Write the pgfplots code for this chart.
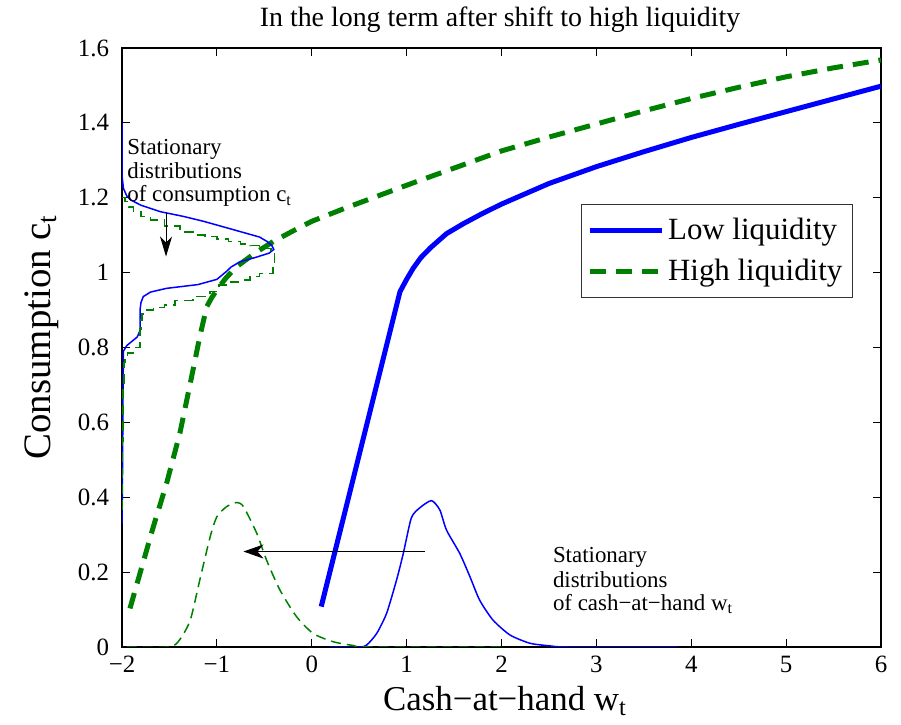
\documentclass[border=0pt]{standalone}
\usepackage{pgfplots}
\pgfplotsset{compat=1.18}
\usepackage{fontspec}
\setmainfont{Liberation Serif}
\usetikzlibrary{arrows.meta}
\definecolor{mblue}{rgb}{0,0,1}
\definecolor{mgreen}{rgb}{0,0.5,0}
\begin{document}
\begin{tikzpicture}
\begin{axis}[
  scale only axis,
  width=379.5bp, height=299.5bp,
  xmin=-2, xmax=6, ymin=0, ymax=1.6,
  /pgf/number format/assume math mode=true,
  xtick={-2,-1,0,1,2,3,4,5,6},
  xticklabels={−2,−1,0,1,2,3,4,5,6},
  ytick={0,0.2,0.4,0.6,0.8,1,1.2,1.4,1.6},
  yticklabels={0,0.2,0.4,0.6,0.8,1,1.2,1.4,1.6},
  tick align=inside,
  major tick length=4bp,
  axis line style={line width=0.75bp},
  every tick/.style={black, line width=0.6bp},
  ticklabel style={font=\rmfamily\fontsize{12.5}{15}\selectfont},
  yticklabel style={xshift=-3bp},
  xticklabel style={yshift=-1bp},
  legend style={at={(0.963,0.7396)}, anchor=north east,
    font=\rmfamily\fontsize{15.5}{19}\selectfont, draw=black!80, line width=0.6bp,
    inner xsep=3bp, inner ysep=5bp, row sep=4bp},
  legend cell align=left,
  legend image code/.code={\draw[#1] (0bp,0bp) -- (36bp,0bp);},
]
% consumption functions
\addplot[mblue, line width=2.5bp] coordinates {
(0.1,0.108) (0.93,0.949) (0.97,0.968) (1.0,0.982) (1.07,1.012) (1.15,1.04) (1.25,1.066)
(1.42,1.104) (1.6,1.131) (1.8,1.158) (2.0,1.183) (2.5,1.238) (3.0,1.283) (3.5,1.323)
(4.0,1.361) (4.5,1.396) (5.0,1.43) (5.5,1.464) (6.0,1.498)};
\addlegendentry{Low liquidity}
\addplot[mgreen, line width=2.5bp, dash pattern=on 8bp off 5bp] coordinates {
(-1.916,0.103) (-1.81,0.197) (-1.67,0.321) (-1.53,0.437) (-1.39,0.571) (-1.266,0.722)
(-1.18,0.829) (-1.107,0.909) (-1.05,0.935) (-1.0,0.954) (-0.9,0.987) (-0.79,1.016) (-0.6,1.052)
(-0.406,1.083) (-0.2,1.111) (0.0,1.137) (0.35,1.172) (0.7,1.205) (1.05,1.238) (1.4,1.27) (2.0,1.325)
(2.5,1.362) (3,1.397) (3.5,1.432) (4,1.465) (4.5,1.495) (5,1.523) (5.5,1.547) (6,1.568)};
\addlegendentry{High liquidity}
% stationary distributions of cash-at-hand
\addplot[mblue, line width=0.75bp, smooth, tension=0.4, forget plot] coordinates {
(0.19,0) (0.5,0) (0.578,0.005) (0.684,0.036) (0.789,0.09) (0.894,0.179) (0.965,0.25)
(1.05,0.345) (1.14,0.372) (1.262,0.391) (1.35,0.366) (1.42,0.3125) (1.56,0.25)
(1.667,0.188) (1.77,0.125) (1.91,0.072) (2.09,0.032) (2.30,0.01) (2.51,0.003) (2.7,0) (3.86,0)};
\addplot[mgreen, line width=0.75bp, dash pattern=on 5bp off 3bp, smooth, tension=0.4, forget plot] coordinates {
(-1.95,0) (-1.5,0) (-1.39,0.02) (-1.28,0.072) (-1.18,0.179) (-1.07,0.295) (-1.0,0.348)
(-0.897,0.375) (-0.79,0.386) (-0.72,0.375) (-0.58,0.304) (-0.476,0.232) (-0.335,0.152)
(-0.16,0.081) (0.016,0.036) (0.227,0.014) (0.437,0.004) (0.6,0) (2.0,0)};
% stationary distributions of consumption
\addplot[mblue, line width=0.75bp, forget plot] coordinates {
(-2,1.40) (-2,1.26) (-1.985,1.225) (-1.95,1.205) (-1.9,1.193) (-1.8,1.18) (-1.6,1.163)
(-1.35,1.15) (-1.14,1.137) (-0.9,1.12) (-0.69,1.105) (-0.55,1.095) (-0.47,1.083)
(-0.42,1.072) (-0.40,1.062) (-0.45,1.052) (-0.6,1.04) (-0.757,1.029) (-0.85,1.015)
(-0.9,1.003) (-1.0,0.982) (-1.2,0.968) (-1.53,0.958) (-1.7,0.948) (-1.776,0.936)
(-1.80,0.92) (-1.81,0.90) (-1.81,0.845) (-1.84,0.828) (-1.95,0.805) (-1.985,0.79)
(-1.99,0.65) (-1.995,0.45) (-2,0.33)};
\addplot[mgreen, line width=0.75bp, dash pattern=on 5bp off 3bp, const plot, forget plot] coordinates {
(-2,1.20) (-1.97,1.19) (-1.93,1.175) (-1.88,1.163) (-1.8,1.15) (-1.7,1.14) (-1.55,1.125)
(-1.39,1.109) (-1.25,1.10) (-1.125,1.096) (-1.0,1.09) (-0.88,1.083) (-0.75,1.077)
(-0.65,1.072) (-0.55,1.068) (-0.47,1.065) (-0.43,1.05) (-0.39,1.03) (-0.39,1.016)
(-0.41,0.998) (-0.55,0.99) (-0.65,0.98) (-0.77,0.975) (-0.89,0.967) (-0.98,0.95)
(-1.07,0.936) (-1.25,0.925) (-1.44,0.913) (-1.55,0.907) (-1.67,0.90) (-1.75,0.89)
(-1.79,0.873) (-1.80,0.85) (-1.81,0.80) (-1.88,0.785) (-1.94,0.772) (-1.97,0.76)
(-1.98,0.7) (-1.99,0.55) (-2,0.35)};
% arrows
\draw[black, line width=0.5bp, -{Stealth[length=10bp, width=7bp, inset=3bp]}]
  (axis cs:1.19,0.255) -- (axis cs:-0.72,0.255);
\draw[black, line width=0.5bp, -{Stealth[length=10bp, width=6bp, inset=3bp]}]
  (axis cs:-1.536,1.158) -- (axis cs:-1.536,1.043);
\end{axis}
% annotations (axis origin at lower-left of plot box; 1px = 0.5bp)
\begingroup
\fontsize{11.5}{13.5}\selectfont
\node[anchor=base west, inner sep=0pt] at (2.5bp,246bp) {Stationary};
\node[anchor=base west, inner sep=0pt] at (2.5bp,234bp) {distributions};
\node[anchor=base west, inner sep=0pt] at (2.5bp,222.5bp) {of consumption c\textsubscript{t}};
\node[anchor=base west, inner sep=0pt] at (215.3bp,42bp) {Stationary};
\node[anchor=base west, inner sep=0pt] at (215.3bp,30bp) {distributions};
\node[anchor=base west, inner sep=0pt] at (215.3bp,18.3bp) {of cash−at−hand w\textsubscript{t}};
\endgroup
\node[anchor=base, inner sep=0pt, font=\fontsize{14}{17}\selectfont] at (189bp,310bp)
  {In the long term after shift to high liquidity};
\node[anchor=base, inner sep=0pt, font=\fontsize{17.5}{21}\selectfont] at (191.5bp,-31.5bp)
  {Cash−at−hand w\textsubscript{t}};
\node[anchor=base, rotate=90, inner sep=0pt, font=\fontsize{19.5}{23}\selectfont] at (-36bp,155bp)
  {Consumption c\textsubscript{t}};
\pgfresetboundingbox
\path[use as bounding box] (-61bp,-39bp) rectangle (389.5bp,323.5bp);
\end{tikzpicture}
\end{document}
